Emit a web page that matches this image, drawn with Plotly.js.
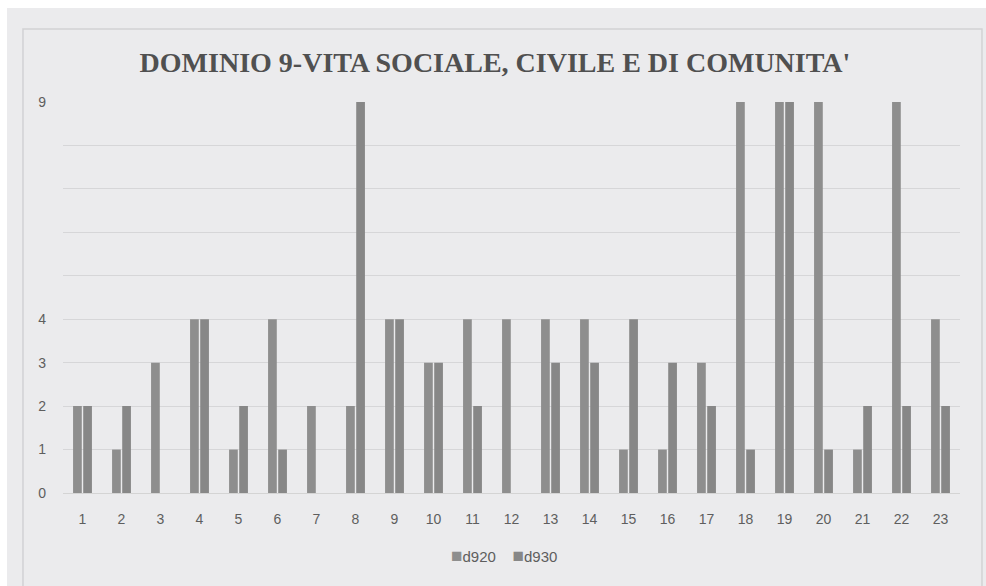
<!DOCTYPE html>
<html>
<head>
<meta charset="utf-8">
<script src="https://cdn.plot.ly/plotly-3.0.1.min.js"></script>
<style>
  html, body { margin: 0; padding: 0; background: #ffffff; }
  #chart { width: 986px; height: 586px; }
</style>
</head>
<body>
<div id="chart"></div>
<script>
// Categories (soggetti 1..23) and scores for the two ICF items
const categories = ['1','2','3','4','5','6','7','8','9','10','11','12','13','14','15','16','17','18','19','20','21','22','23'];
const d920 = [2, 1, 3, 4, 1, 4, 2, 2, 4, 3, 4, 4, 4, 4, 1, 1, 3, 9, 9, 9, 1, 9, 4];
const d930 = [2, 2, 0, 4, 2, 1, 0, 9, 4, 3, 2, 0, 3, 3, 4, 3, 2, 1, 9, 1, 2, 2, 2];
const seriesNames = ['d920', 'd930'];
const seriesColors = ['#8e8e8e', '#878787'];

// Y axis: a gridline at every unit, labels only where the scale is used
const yTickVals = [0, 1, 2, 3, 4, 5, 6, 7, 8, 9];
const yTickText = ['0', '1', '2', '3', '4', '', '', '', '', '9'];

const chartTitle = "DOMINIO 9-VITA SOCIALE, CIVILE E DI COMUNITA'";

const tickFont = { family: 'Liberation Sans, Arial, sans-serif', size: 14, color: '#5e5e5e' };
const legendFont = { family: 'Liberation Sans, Arial, sans-serif', size: 15, color: '#5e5e5e' };

const traces = [
  { type: 'bar', name: seriesNames[0], x: categories, y: d920, marker: { color: seriesColors[0] } },
  { type: 'bar', name: seriesNames[1], x: categories, y: d930, marker: { color: seriesColors[1] } }
];

// compact legend line: square swatch right next to each name
const legendText = seriesNames.map((n, i) =>
  '<span style="color:' + seriesColors[i] + ';font-size:19px">■</span>' + n
).join('    ');

const layout = {
  width: 986,
  height: 586,
  margin: { l: 63, r: 26, t: 102, b: 93 },
  paper_bgcolor: '#ffffff',
  plot_bgcolor: 'rgba(0,0,0,0)',
  barmode: 'group',
  bargap: 0.48,
  bargroupgap: 0.14,
  showlegend: false,
  title: {
    text: '<b>' + chartTitle + '</b>',
    font: { family: 'Liberation Serif, Times New Roman, serif', size: 28, color: '#505050' },
    x: 0.502, xanchor: 'center',
    y: 1 - 62 / 586, yanchor: 'middle'
  },
  xaxis: {
    type: 'category',
    tickfont: tickFont,
    showgrid: false,
    showline: true,
    linecolor: '#d4d4d4',
    linewidth: 1,
    ticks: '',
    ticklabelstandoff: 13,
    fixedrange: true
  },
  yaxis: {
    range: [0, 9],
    tickvals: yTickVals,
    ticktext: yTickText,
    tickfont: tickFont,
    showgrid: true,
    gridcolor: '#d6d6d8',
    gridwidth: 1,
    zeroline: false,
    showline: false,
    ticks: '',
    ticklabelstandoff: 16,
    fixedrange: true
  },
  annotations: [
    {
      xref: 'paper', yref: 'paper',
      x: 0.492, xanchor: 'center',
      y: -0.161, yanchor: 'middle',
      text: legendText,
      showarrow: false,
      font: legendFont
    }
  ],
  shapes: [
    // light grey panel behind the chart
    {
      type: 'rect', layer: 'below', xref: 'paper', yref: 'paper',
      x0: -0.0624, x1: 1.04, y0: -0.26, y1: 1.2404,
      fillcolor: '#ebebed', line: { width: 0 }
    },
    // inner chart frame
    {
      type: 'rect', layer: 'below', xref: 'paper', yref: 'paper',
      x0: -0.0446, x1: 1.0245, y0: -0.26, y1: 1.1867,
      fillcolor: 'rgba(0,0,0,0)', line: { color: '#d2d2d4', width: 1.5 }
    }
  ]
};

Plotly.newPlot('chart', traces, layout, { displayModeBar: false, staticPlot: true });
</script>
</body>
</html>
